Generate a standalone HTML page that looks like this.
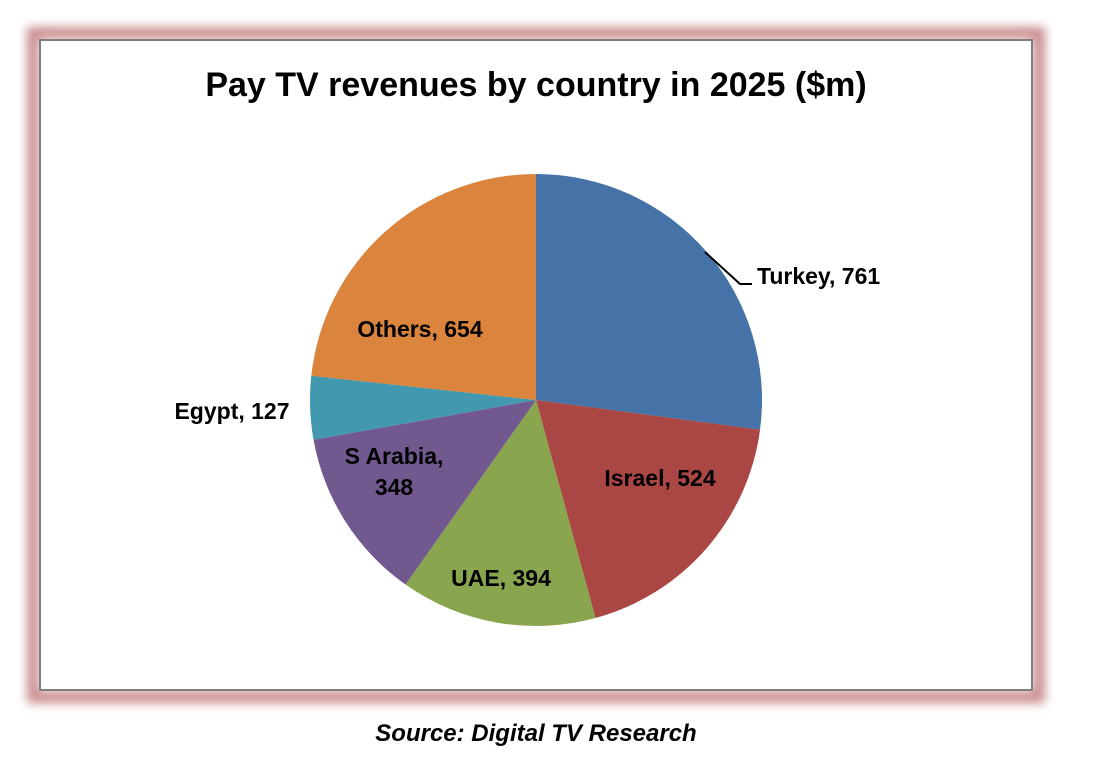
<!DOCTYPE html>
<html><head><meta charset="utf-8"><style>
body{margin:0;background:#fff;width:1102px;height:762px;overflow:hidden;font-family:"Liberation Sans",Arial,sans-serif}
</style></head><body>
<svg width="1102" height="762" viewBox="0 0 1102 762">
<defs><filter id="glow" x="-5%" y="-5%" width="110%" height="110%"><feGaussianBlur stdDeviation="5"/></filter></defs>
<rect x="33" y="33" width="1006" height="664" fill="none" stroke="#c98a8c" stroke-width="12" filter="url(#glow)"/>
<rect x="40" y="40" width="992" height="650" fill="#fff" stroke="#7f7f7f" stroke-width="2"/>
<text x="536" y="96" text-anchor="middle" font-size="34" font-weight="bold" fill="#000">Pay TV revenues by country in 2025 ($m)</text>
<g id="pie"></g>
<g id="labels"></g>
<polyline points="705,252 740,284 752,284" fill="none" stroke="#000" stroke-width="2"/>
<text x="536" y="741" text-anchor="middle" font-size="24" font-weight="bold" font-style="italic">Source: Digital TV Research</text>
</svg>
<script>
const categories=["Turkey","Israel","UAE","S Arabia","Egypt","Others"];
const values=[761,524,394,348,127,654];
const colors=["#4572a7","#aa4643","#89a54e","#71588f","#4198af","#db843d"];
const labelPos=[[757,284,"start"],[660,486,"middle"],[501,586,"middle"],[394,478,"middle"],[232,419,"middle"],[420,337,"middle"]];
const cx=536,cy=400,r=226,NS="http://www.w3.org/2000/svg";
const total=values.reduce((a,b)=>a+b,0);
const pie=document.getElementById('pie'),lab=document.getElementById('labels');
function pt(a){return [cx+r*Math.sin(a),cy-r*Math.cos(a)];}
let a0=0;
values.forEach((v,i)=>{
 const a1=a0+v/total*2*Math.PI;
 const p0=pt(a0),p1=pt(a1),large=(a1-a0)>Math.PI?1:0;
 const p=document.createElementNS(NS,'path');
 p.setAttribute('d',`M${cx},${cy}L${p0[0]},${p0[1]}A${r},${r} 0 ${large} 1 ${p1[0]},${p1[1]}Z`);
 p.setAttribute('fill',colors[i]);
 
 
 pie.appendChild(p);
 const lp=labelPos[i];
 const t=document.createElementNS(NS,'text');
 t.setAttribute('x',lp[0]);t.setAttribute('y',lp[1]);t.setAttribute('text-anchor',lp[2]);
 t.setAttribute('font-size','23');t.setAttribute('font-weight','bold');
 if(categories[i]==="S Arabia"){
  t.innerHTML=`<tspan x="${lp[0]}" dy="-14">${categories[i]},</tspan><tspan x="${lp[0]}" dy="31">${values[i]}</tspan>`;
 } else t.textContent=categories[i]+', '+values[i];
 
 
 lab.appendChild(t);
 a0=a1;
});
</script>
</body></html>
